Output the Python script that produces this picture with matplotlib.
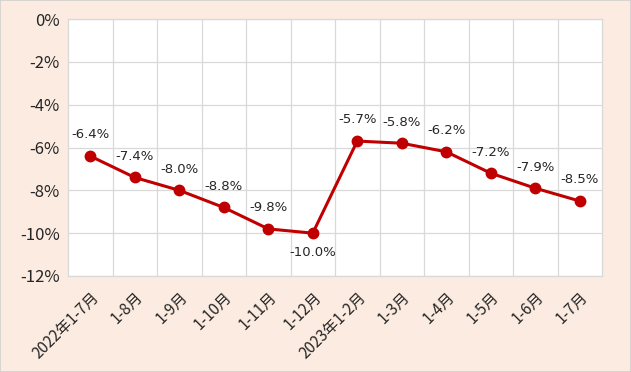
import matplotlib
matplotlib.use("Agg")
import matplotlib.pyplot as plt
from matplotlib.ticker import FuncFormatter, MultipleLocator

plt.rcParams['font.family'] = ['DejaVu Sans', 'Noto Sans CJK JP']

categories = ["2022年1-7月", "1-8月", "1-9月", "1-10月", "1-11月", "1-12月",
              "2023年1-2月", "1-3月", "1-4月", "1-5月", "1-6月", "1-7月"]
values = [-6.4, -7.4, -8.0, -8.8, -9.8, -10.0, -5.7, -5.8, -6.2, -7.2, -7.9, -8.5]
labels = ["-6.4%", "-7.4%", "-8.0%", "-8.8%", "-9.8%", "-10.0%",
          "-5.7%", "-5.8%", "-6.2%", "-7.2%", "-7.9%", "-8.5%"]
below = [False, False, False, False, False, True,
         False, False, False, False, False, False]

bg = "#FBEBE0"
fig = plt.figure(figsize=(6.31, 3.72), dpi=100, facecolor=bg)
ax = fig.add_axes([68/631, 1 - 276/372, (602-68)/631, (276-19)/372])
ax.set_facecolor("white")

x = list(range(len(values)))
ax.plot(x, values, color="#C00000", lw=2.2, marker="o", ms=7.5,
        markerfacecolor="#C00000", markeredgecolor="#C00000", zorder=3)

for xi, v, lab, b in zip(x, values, labels, below):
    if b:
        ax.annotate(lab, (xi, v), xytext=(0, -9), textcoords="offset points",
                    ha="center", va="top", fontsize=9.5, color="#262626")
    else:
        ax.annotate(lab, (xi, v), xytext=(0, 10.5), textcoords="offset points",
                    ha="center", va="bottom", fontsize=9.5, color="#262626")

ax.set_xlim(-0.5, len(values) - 0.5)
ax.set_ylim(-12, 0)
ax.yaxis.set_major_locator(MultipleLocator(2))
ax.yaxis.set_major_formatter(FuncFormatter(lambda v, p: f"{v:.0f}%"))

for b in range(1, len(values)):
    ax.axvline(b - 0.5, color="#D9D9D9", lw=0.9, zorder=0)
ax.grid(axis="y", color="#D9D9D9", lw=0.9, zorder=0)
ax.set_axisbelow(True)

ax.set_xticks(x)
ax.set_xticklabels(categories, rotation=45, ha="right", rotation_mode="anchor",
                   fontsize=11, color="#262626",
                   family=['Noto Sans CJK JP', 'DejaVu Sans'])
ax.tick_params(axis="x", length=0, pad=9)
ax.tick_params(axis="y", length=0, pad=6, labelsize=12, labelcolor="#262626",
               labelfontfamily='Noto Sans CJK JP')

for s in ax.spines.values():
    s.set_color("#D9D9D9")
    s.set_linewidth(0.9)

fig.patches.append(plt.Rectangle((0, 0), 1, 1, transform=fig.transFigure,
                                 fill=False, edgecolor="#D0D0D0", lw=1.2))

fig.savefig("out.png", dpi=100, facecolor=bg)
